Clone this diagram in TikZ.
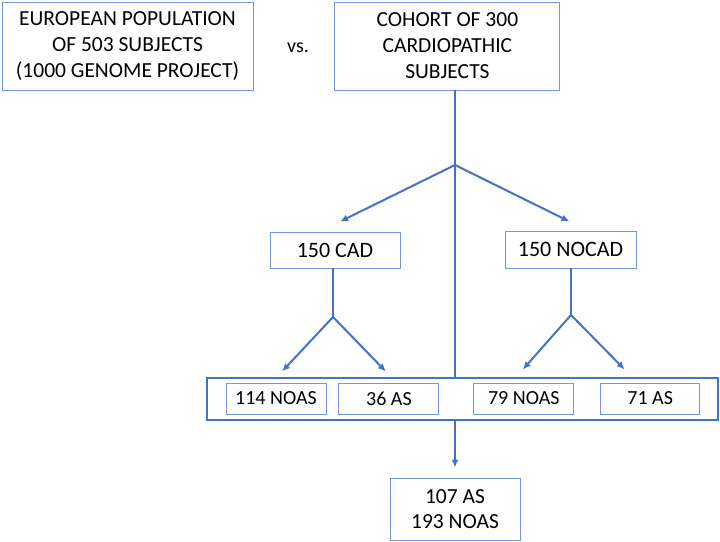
\documentclass[tikz,border=0pt]{standalone}
\usepackage{fontspec}
\setmainfont{Carlito}
\usetikzlibrary{arrows.meta,positioning,calc}
\definecolor{flowblue}{RGB}{68,114,196}
\definecolor{boxblue}{RGB}{118,152,214}

\begin{document}
\begin{tikzpicture}
   [x=1pt,y=-1pt,
    every node/.style={inner sep=0pt},
    box/.style={draw=boxblue, line width=0.9pt, align=center},
    flow/.style={draw=flowblue, line width=2pt},
    arr/.style={flow, -{Latex[length=8pt,width=7pt]}}]
   \useasboundingbox (0,0) rectangle (720,541);
   % top row
   \node[box, minimum width=251pt, minimum height=88pt, font=\fontsize{21.5}{26}\selectfont] (euro) at (127.5,46) {EUROPEAN POPULATION\\OF 503 SUBJECTS\\(1000 GENOME PROJECT)};
   \node[box, minimum width=225pt, minimum height=88pt, font=\fontsize{21.5}{26}\selectfont, right=81pt of euro] (cohort) {COHORT OF 300\\CARDIOPATHIC\\SUBJECTS};
   \node[font=\fontsize{20}{24}\selectfont] (vs) at (298,48) {vs.};
   % split points
   \coordinate (split) at (455,165);
   \coordinate (cadsplit) at (333,317);
   \coordinate (nocadsplit) at (571,315);
   % second row
   \node[box, minimum width=130pt, minimum height=36pt, font=\fontsize{22}{26}\selectfont] (cad) at (335,250) {150 CAD};
   \node[box, minimum width=131pt, minimum height=37pt, font=\fontsize{22}{26}\selectfont] (nocad) at (570.5,249.5) {150 NOCAD};
   % groups
   \node[draw=flowblue, line width=2.5pt, minimum width=511pt, minimum height=42pt] (groups) at (462.5,399) {};
   \node[box, minimum width=100pt, minimum height=31pt, font=\fontsize{20}{23}\selectfont] (noascad) at (276,398.5) {114 NOAS};
   \node[box, minimum width=100pt, minimum height=31pt, font=\fontsize{20}{23}\selectfont, right=12pt of noascad] (ascad) {36 AS};
   \node[box, minimum width=100pt, minimum height=31pt, font=\fontsize{20}{23}\selectfont, right=34pt of ascad] (noasnocad) {79 NOAS};
   \node[box, minimum width=99pt, minimum height=31pt, font=\fontsize{20}{23}\selectfont, right=26pt of noasnocad] (asnocad) {71 AS};
   % result
   \node[box, minimum width=130pt, minimum height=62pt, font=\fontsize{21.5}{25}\selectfont] (total) at (455,509) {107 AS\\193 NOAS};
   % connectors
   \path[flow] (split |- cohort.south) -- (split |- groups.north);
   \path[arr] (split) -- ($(cad.north)+(5,-10)$);
   \path[arr] (split) -- ($(nocad.north)+(-1,-9)$);
   \path[flow] (cadsplit |- cad.south) -- (cadsplit);
   \path[arr] (cadsplit) -- ($(noascad.north)+(6,-11)$);
   \path[arr] (cadsplit) -- ($(ascad.north)+(-3,-11)$);
   \path[flow] (nocadsplit |- nocad.south) -- (nocadsplit);
   \path[arr] (nocadsplit) -- ($(noasnocad.north)+(-1,-13)$);
   \path[arr] (nocadsplit) -- ($(asnocad.north)+(-25.5,-13)$);
   \path[arr] (split |- groups.south) -- ($(total.north)+(0,-10)$);
\end{tikzpicture}
\end{document}
